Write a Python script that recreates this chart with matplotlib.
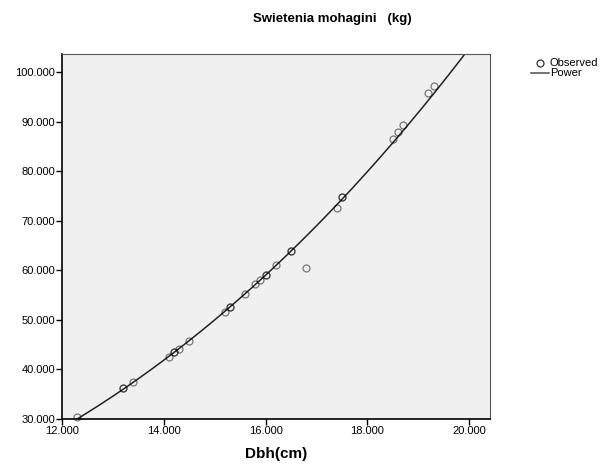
import numpy as np
import matplotlib.pyplot as plt

plt.rcParams['font.family'] = ['Liberation Sans', 'DejaVu Sans']

dbh = [12.3, 13.2, 13.2, 13.4, 14.1, 14.2, 14.2, 14.3, 14.5,
       15.2, 15.3, 15.3, 15.6, 15.8, 15.9, 16.0, 16.0, 16.2, 16.5, 16.5,
       16.8, 17.4, 17.5, 17.5, 18.5, 18.6, 18.7, 19.2, 19.3]
kg = [30.5, 36.2, 36.2, 37.5, 42.6, 43.5, 43.5, 44.1, 45.8,
      51.7, 52.6, 52.6, 55.3, 57.2, 58.1, 59.1, 59.1, 61.0, 64.0, 64.0,
      60.4, 72.6, 74.8, 74.8, 86.6, 88.0, 89.3, 95.9, 97.3]

xticks = [12, 14, 16, 18, 20]
yticks = [30, 40, 50, 60, 70, 80, 90, 100]

# power model fitted on the observed values
b, lna = np.polyfit(np.log(dbh), np.log(kg), 1)
xs = np.linspace(12.3, 20.41, 300)
ys = np.exp(lna) * xs ** b

fig = plt.figure(figsize=(6.12, 4.68), dpi=100)
ax = fig.add_axes([0.1013, 0.1047, 0.6994, 0.7799])
ax.set_facecolor('#f0f0f0')

ax.plot(dbh, kg, 'o', ms=5, mfc='none', mec='black', mew=0.9, alpha=0.5,
        label='Observed', clip_on=False, zorder=3)
ax.plot(xs, ys, '-', color='#222222', lw=1.1, label='Power', zorder=2)

ax.set_xlim(12, 20.41)
ax.set_ylim(30, 103.7)
ax.set_xticks(xticks)
ax.set_yticks(yticks)
ax.set_xticklabels(['%.3f' % v for v in xticks], fontsize=8)
ax.set_yticklabels(['%.3f' % v for v in yticks], fontsize=8)
ax.tick_params(direction='out', length=4, width=1, colors='black', pad=1)

for s in ['top', 'right']:
    ax.spines[s].set_color('#555555')
    ax.spines[s].set_linewidth(0.8)
for s in ['left', 'bottom']:
    ax.spines[s].set_color('black')
    ax.spines[s].set_linewidth(1.2)

ax.set_xlabel('Dbh(cm)', fontsize=11, fontweight='bold', labelpad=8)
fig.text(0.543, 0.96, 'Swietenia mohagini   (kg)', ha='center', va='center',
         fontsize=9.5, fontweight='bold')

leg = ax.legend(loc='upper left', bbox_to_anchor=(1.085, 1.0), frameon=False,
                fontsize=8, handlelength=1.6, handletextpad=0.1,
                labelspacing=0.0, borderaxespad=0)
for h in leg.legend_handles:
    h.set_alpha(0.8)

fig.savefig('out.png', dpi=100)
